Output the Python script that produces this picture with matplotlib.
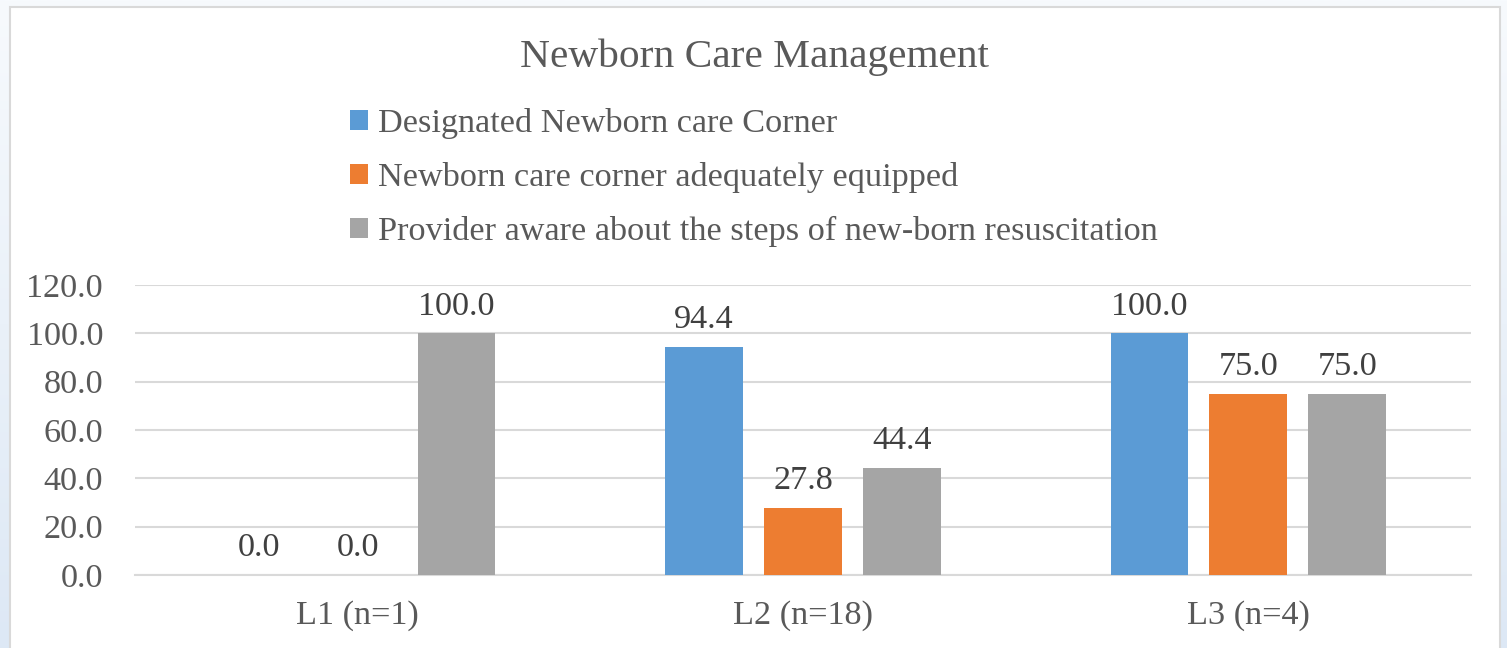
import numpy as np
import matplotlib
matplotlib.use("Agg")
import matplotlib.pyplot as plt
from matplotlib.patches import Rectangle, Patch
from matplotlib.colors import LinearSegmentedColormap

categories = ["L1 (n=1)", "L2 (n=18)", "L3 (n=4)"]
series_names = [
    "Designated Newborn care Corner",
    "Newborn care corner adequately equipped",
    "Provider aware about the steps of new-born resuscitation",
]
designated = [0.0, 94.4, 100.0]
equipped = [0.0, 27.8, 75.0]
aware = [100.0, 44.4, 75.0]
yticks = [0, 20, 40, 60, 80, 100, 120]

colors = ["#5B9BD5", "#ED7D31", "#A5A5A5"]
FONT = "Liberation Serif"
plt.rcParams["font.family"] = [FONT, "DejaVu Serif"]
FS = 24.7

W, H = 1507, 648
fig = plt.figure(figsize=(W / 100, H / 100), dpi=100)

# background gradient with white chart area
bg = fig.add_axes([0, 0, 1, 1], zorder=-10)
grad = np.linspace(0, 1, 256).reshape(-1, 1)
cmap = LinearSegmentedColormap.from_list("bg", ["#F7FAFD", "#DDE8F5"])
bg.imshow(grad, aspect="auto", cmap=cmap, extent=[0, 1, 0, 1], origin="upper")
bg.add_patch(Rectangle((10 / W, -0.1), (1500 - 10) / W, 1.1 - 7 / H,
                       facecolor="white", edgecolor="#D9D9D9", linewidth=1.5,
                       transform=bg.transAxes))
bg.set_xlim(0, 1); bg.set_ylim(0, 1)
bg.axis("off")

ax = fig.add_axes([135 / W, 1 - 575 / H, (1471 - 135) / W, (575 - 285) / H])
x = np.arange(len(categories))
width = 0.175
step = 0.222
data = [designated, equipped, aware]
for i, (vals, c) in enumerate(zip(data, colors)):
    bars = ax.bar(x + (i - 1) * step, vals, width=width, color=c, zorder=3,
                  label=series_names[i])
    ax.bar_label(bars, labels=[f"{v:.1f}" for v in vals], padding=8.5,
                 fontsize=FS, color="#404040", family=FONT)

ax.set_xlim(-0.5, 2.5)
ax.set_ylim(0, 120)
ax.set_yticks(yticks)
ax.set_yticklabels([f"{v:.1f}" for v in yticks])
ax.set_xticks(x)
ax.set_xticklabels(categories)
ax.tick_params(axis="both", length=0, labelsize=FS, colors="#595959")
ax.tick_params(axis="y", pad=23)
ax.tick_params(axis="x", pad=18.5)
ax.grid(axis="y", color="#D9D9D9", linewidth=1.5, zorder=0)
for s in ["top", "left", "right"]:
    ax.spines[s].set_visible(False)
ax.spines["bottom"].set_color("#D9D9D9")
ax.spines["bottom"].set_linewidth(1.5)
ax.set_facecolor("none")

fig.text(755 / W, 1 - 67 / H, "Newborn Care Management", ha="center", va="baseline",
         fontsize=29.8, color="#595959", family=FONT)

handles = [Patch(facecolor=c, edgecolor="none") for c in colors]
leg = fig.legend(handles, series_names, loc="upper left",
                 bbox_to_anchor=(350 / W, 1 - 108 / H), frameon=False,
                 fontsize=FS, handlelength=0.525, handleheight=0.525,
                 handletextpad=0.29, labelspacing=0.67, borderpad=0,
                 borderaxespad=0)
for t in leg.get_texts():
    t.set_color("#595959")

fig.savefig("out.png", dpi=100)
